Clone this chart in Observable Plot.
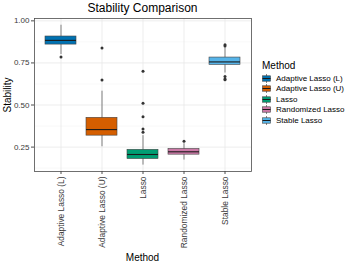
<!DOCTYPE html>
<html>
<head>
<meta charset="utf-8">
<script src="https://cdn.jsdelivr.net/npm/d3@7"></script>
<script src="https://cdn.jsdelivr.net/npm/@observablehq/plot@0.6"></script>
<style>
  html, body { margin: 0; padding: 0; background: #fff; }
  #wrap { position: relative; width: 357px; height: 268px; font-family: "Liberation Sans", Arial, sans-serif; overflow: hidden; }
  #wrap > svg { position: absolute; left: 0; top: 0; }
  .title { position: absolute; left: 34px; width: 217px; top: 0px; text-align: center; font-size: 12px; color: #000; line-height: 16px; }
  .ylab { position: absolute; left: 7px; top: 95px; transform: translate(-50%, -50%) rotate(-90deg); font-size: 10px; color: #000; white-space: nowrap; }
  .xlab { position: absolute; left: 34px; width: 217px; top: 251px; text-align: center; font-size: 10px; color: #000; line-height: 13px; }
  .legend { position: absolute; left: 262px; top: 59px; }
  .legend .lt { font-size: 10px; color: #000; line-height: 13px; margin-bottom: 1px; }
  .legend .item { display: flex; align-items: center; height: 10.5px; font-size: 8px; color: #000; white-space: nowrap; }
  .legend .item svg { display: block; margin-right: 5px; flex: none; }
</style>
</head>
<body>
<div id="wrap"></div>
<script>
const methods = ["Adaptive Lasso (L)", "Adaptive Lasso (U)", "Lasso", "Randomized Lasso", "Stable Lasso"];
const colors = ["#0072B2", "#D55E00", "#009E73", "#CC79A7", "#56B4E9"];
const whiskerLow = [0.800, 0.252, 0.143, 0.173, 0.690];
const q1 = [0.859, 0.318, 0.179, 0.205, 0.738];
const median = [0.884, 0.354, 0.206, 0.222, 0.756];
const q3 = [0.907, 0.424, 0.234, 0.239, 0.782];
const whiskerHigh = [0.974, 0.582, 0.318, 0.270, 0.840];
const outlierMethod = ["Adaptive Lasso (L)", "Adaptive Lasso (U)", "Adaptive Lasso (U)", "Lasso", "Lasso", "Lasso", "Lasso", "Lasso", "Randomized Lasso", "Stable Lasso", "Stable Lasso", "Stable Lasso", "Stable Lasso", "Stable Lasso"];
const outlierValue = [0.785, 0.839, 0.648, 0.700, 0.511, 0.430, 0.358, 0.338, 0.284, 0.858, 0.850, 0.670, 0.655, 0.650];
const yTicks = [0.25, 0.50, 0.75, 1.00];
const yMinor = [0.125, 0.375, 0.625, 0.875];

const boxes = methods.map((m, i) => ({method: m, lo: whiskerLow[i], q1: q1[i], med: median[i], q3: q3[i], hi: whiskerHigh[i]}));
const outliers = outlierMethod.map((m, i) => ({method: m, value: outlierValue[i]}));

const chart = Plot.plot({
  width: 357,
  height: 268,
  marginLeft: 34,
  marginRight: 106,
  marginTop: 18,
  marginBottom: 97,
  style: {fontFamily: "Liberation Sans, Arial, sans-serif", background: "transparent"},
  x: {type: "band", domain: methods, paddingInner: 0.25, paddingOuter: 0.225, align: 0.5},
  y: {domain: [0.105, 1.014]},
  color: {domain: methods, range: colors},
  marks: [
    Plot.gridY(yMinor, {stroke: "#f3f3f3", strokeOpacity: 1, strokeWidth: 0.6}),
    Plot.gridY(yTicks, {stroke: "#e8e8e8", strokeOpacity: 1, strokeWidth: 0.8}),
    Plot.gridX(methods, {stroke: "#e8e8e8", strokeOpacity: 1, strokeWidth: 0.8}),
    Plot.ruleX(boxes, {x: "method", y1: "lo", y2: "hi", stroke: "#333", strokeWidth: 0.6}),
    Plot.barY(boxes, {x: "method", y1: "q1", y2: "q3", fill: "method", stroke: "#444", strokeWidth: 0.6}),
    Plot.tickY(boxes, {x: "method", y: "med", stroke: "#1a1a1a", strokeWidth: 1.1}),
    Plot.dot(outliers, {x: "method", y: "value", r: 1.5, fill: "#333", stroke: null}),
    Plot.frame({stroke: "#4d4d4d", strokeWidth: 0.8}),
    Plot.axisY(yTicks, {tickFormat: d3.format(".2f"), tickSize: 3, tickPadding: 2, fontSize: 8, fill: "#3a3a3a", stroke: "#4d4d4d", label: null}),
    Plot.axisX({tickRotate: -90, tickSize: 3, tickPadding: 2, fontSize: 8.4, fill: "#3a3a3a", stroke: "#4d4d4d", label: null})
  ]
});

const wrap = document.getElementById("wrap");
wrap.appendChild(chart);

const t = document.createElement("div"); t.className = "title"; t.textContent = "Stability Comparison"; wrap.appendChild(t);
const yl = document.createElement("div"); yl.className = "ylab"; yl.textContent = "Stability"; wrap.appendChild(yl);
const xl = document.createElement("div"); xl.className = "xlab"; xl.textContent = "Method"; wrap.appendChild(xl);

const lg = document.createElement("div"); lg.className = "legend";
const lt = document.createElement("div"); lt.className = "lt"; lt.textContent = "Method"; lg.appendChild(lt);
methods.forEach((m, i) => {
  const it = document.createElement("div"); it.className = "item";
  const ns = "http://www.w3.org/2000/svg";
  const s = document.createElementNS(ns, "svg");
  s.setAttribute("width", 9); s.setAttribute("height", 9);
  s.innerHTML = `<line x1="4.5" x2="4.5" y1="0" y2="9" stroke="#333" stroke-width="0.6"/>` +
    `<rect x="0.5" y="1.8" width="8" height="5.4" fill="${colors[i]}" stroke="#444" stroke-width="0.6"/>` +
    `<line x1="0.5" x2="8.5" y1="4.5" y2="4.5" stroke="#1a1a1a" stroke-width="1"/>`;
  it.appendChild(s);
  const sp = document.createElement("span"); sp.textContent = m; it.appendChild(sp);
  lg.appendChild(it);
});
wrap.appendChild(lg);
</script>
</body>
</html>
